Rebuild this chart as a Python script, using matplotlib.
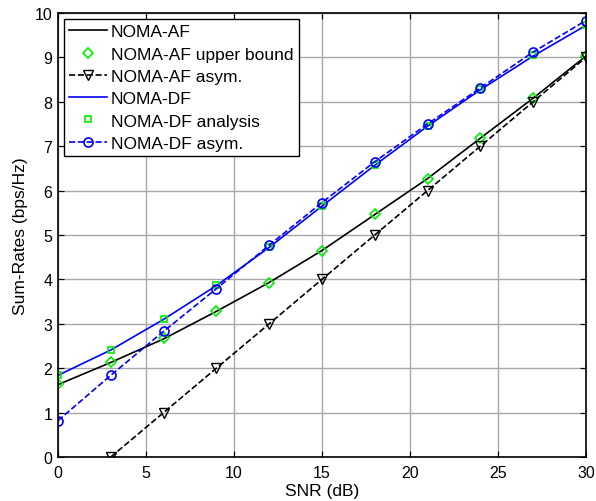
import matplotlib
matplotlib.use("Agg")
import matplotlib.pyplot as plt

plt.rcParams['font.family'] = ['Liberation Sans', 'DejaVu Sans']

snr = [0, 3, 6, 9, 12, 15, 18, 21, 24, 27, 30]
snr_asym_af = [3, 6, 9, 12, 15, 18, 21, 24, 27, 30]

af_sim = [1.63, 2.13, 2.66, 3.28, 3.93, 4.65, 5.46, 6.27, 7.18, 8.08, 9.03]
af_upper = [1.65, 2.15, 2.67, 3.29, 3.93, 4.65, 5.47, 6.27, 7.19, 8.09, 9.04]
af_asym = [0.0, 1.0, 2.0, 3.0, 4.0, 5.0, 6.0, 7.0, 8.0, 9.0]
df_sim = [1.84, 2.41, 3.1, 3.86, 4.72, 5.65, 6.57, 7.45, 8.27, 9.03, 9.72]
df_analysis = [1.84, 2.41, 3.1, 3.88, 4.73, 5.66, 6.58, 7.46, 8.28, 9.05, 9.74]
df_asym = [0.82, 1.84, 2.83, 3.79, 4.77, 5.73, 6.65, 7.5, 8.31, 9.12, 9.83]

xticks = [0, 5, 10, 15, 20, 25, 30]
yticks = [0, 1, 2, 3, 4, 5, 6, 7, 8, 9, 10]

fig = plt.figure(figsize=(5.96, 5.02), dpi=100)
ax = fig.add_axes([0.0973, 0.0876, 0.8857, 0.8845])

green = '#00ee00'
blue = '#0000ff'
ax.plot(snr, af_sim, color='black', lw=1.2, label='NOMA-AF')
ax.plot(snr, af_upper, ls='none', marker='D', ms=4.8, mfc='none', mec=green, mew=1.2,
        label='NOMA-AF upper bound')
ax.plot(snr_asym_af, af_asym, color='black', ls='--', lw=1.2, marker='v', ms=7,
        mfc='none', mec='black', mew=1.0, label='NOMA-AF asym.')
ax.plot(snr, df_sim, color=blue, lw=1.2, label='NOMA-DF')
ax.plot(snr, df_analysis, ls='none', marker='s', ms=5, mfc='none', mec=green, mew=1.2,
        label='NOMA-DF analysis')
ax.plot(snr, df_asym, color=blue, ls='--', lw=1.2, marker='o', ms=6.5,
        mfc='none', mec=blue, mew=1.2, label='NOMA-DF asym.')

ax.set_xlim(0, 30)
ax.set_ylim(0, 10)
ax.set_xticks(xticks)
ax.set_yticks(yticks)
ax.tick_params(direction='in', top=True, right=True, labelsize=11.5, length=4)
ax.tick_params(axis='x', pad=6)
ax.tick_params(axis='y', pad=4)
ax.grid(True, color='#a8a8a8', lw=1.0)
for s in ax.spines.values():
    s.set_linewidth(1.2)
ax.set_xlabel('SNR (dB)', fontsize=12.5, labelpad=2)
ax.set_ylabel('Sum-Rates (bps/Hz)', fontsize=12.5, labelpad=5)

leg = ax.legend(loc='upper left', fontsize=12.5, frameon=True, fancybox=False,
                edgecolor='black', framealpha=1, borderpad=0.3, labelspacing=0.41,
                handlelength=2.2, handletextpad=0.2, borderaxespad=0.35)
leg.get_frame().set_linewidth(1.0)

fig.savefig('out.png', dpi=100)
